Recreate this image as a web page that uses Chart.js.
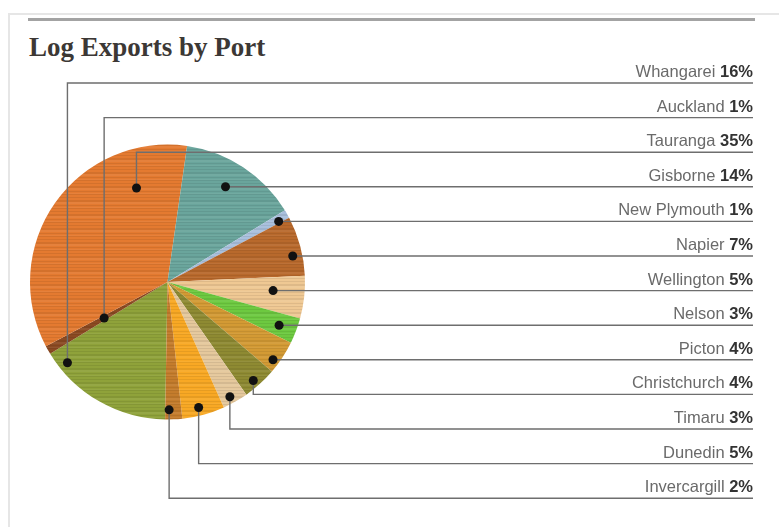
<!DOCTYPE html>
<html>
<head>
<meta charset="utf-8">
<title>Log Exports by Port</title>
<script src="https://cdn.jsdelivr.net/npm/chart.js@4.4.1/dist/chart.umd.min.js"></script>
<style>
  html, body { margin: 0; padding: 0; background: #ffffff; }
  #wrap { position: relative; width: 779px; height: 527px; overflow: hidden; }
  /* faint outer frame of the page panel */
  #frame {
    position: absolute; left: 8px; top: 13px; width: 790px; height: 540px;
    border-left: 2px solid #e6e6e6; border-top: 2px solid #e6e6e6;
  }
  /* darker rule above the title */
  #rule { position: absolute; left: 28px; top: 18px; width: 727px; height: 3px; background: #a3a3a3; }
  h1 {
    position: absolute; left: 29px; top: 34px; margin: 0;
    font: bold 27px/1 "Liberation Serif", "DejaVu Serif", serif;
    color: #3c3835; letter-spacing: 0;
  }
  canvas { position: absolute; left: 0; top: 0; }
</style>
</head>
<body>
<div id="wrap">
  <div id="frame"></div>
  <div id="rule"></div>
  <h1>Log Exports by Port</h1>
  <canvas id="portChart" width="779" height="527"></canvas>
</div>

<script>
/* ── DATA ───────────────────────────────────────────────────── */
/* Ports in legend order; slices run clockwise in the same order */
const ports = [
  'Whangarei', 'Auckland', 'Tauranga', 'Gisborne', 'New Plymouth', 'Napier',
  'Wellington', 'Nelson', 'Picton', 'Christchurch', 'Timaru', 'Dunedin', 'Invercargill',
];

/* Share of log exports, percent */
const shares = [16, 1, 35, 14, 1, 7, 5, 3, 4, 4, 3, 5, 2];

/* Slice colours, same order as ports */
const sliceColors = [
  '#8fa23a', '#8b4a22', '#e47a30', '#6aa59c', '#a9c0dd', '#b8692c', '#efc893',
  '#6dc940', '#d39a34', '#8e8a32', '#e5c89c', '#f8a824', '#c47c2c',
];

/* ── LEADER LAYOUT ──────────────────────────────────────────── */
/* Where each callout dot sits inside its slice:
   [fraction along the slice's angle, fraction of the radius] */
const dotSpots = [
  [0.87, 0.935], [0.50, 0.53], [0.79, 0.72], [0.46, 0.81], [0.50, 0.93],
  [0.64, 0.93], [0.38, 0.77], [0.53, 0.87], [0.69, 0.95], [0.58, 0.95],
  [0.60, 0.95], [0.57, 0.94], [0.76, 0.93],
];
const ROW_TOP   = 83;     // y of the first label rule
const ROW_GAP   = 34.6;   // spacing between label rules
const ROW_RIGHT = 753;    // right end of the rules / labels

/* ── WOOD-GRAIN TEXTURE ─────────────────────────────────────── */
/* Thin horizontal streaks laid over each slice colour */
function grain(base) {
  const c = document.createElement('canvas');
  c.width = 6; c.height = 14;
  const g = c.getContext('2d');
  g.fillStyle = base;
  g.fillRect(0, 0, 6, 14);
  g.fillStyle = 'rgba(0,0,0,0.07)';
  [[1, 1], [4, 2], [9, 1], [12, 1]].forEach(([y, h]) => g.fillRect(0, y, 6, h));
  g.fillStyle = 'rgba(255,255,255,0.06)';
  [[6, 2], [11, 1]].forEach(([y, h]) => g.fillRect(0, y, 6, h));
  return g.createPattern(c, 'repeat');
}

/* ── CALLOUT PLUGIN ─────────────────────────────────────────── */
/* Draws dots, elbow leader lines and right-aligned labels */
const callouts = {
  id: 'callouts',
  afterDatasetsDraw(chart) {
    const ctx  = chart.ctx;
    const arcs = chart.getDatasetMeta(0).data;

    ctx.save();
    arcs.forEach((arc, i) => {
      const p = arc.getProps(['x', 'y', 'startAngle', 'endAngle', 'outerRadius'], true);
      const [af, rf] = dotSpots[i];
      const a = p.startAngle + af * (p.endAngle - p.startAngle);
      const rowY = ROW_TOP + i * ROW_GAP;
      let dx = p.x + Math.cos(a) * p.outerRadius * rf;
      let dy = p.y + Math.sin(a) * p.outerRadius * rf;
      if (Math.abs(dy - rowY) < 6) dy = rowY;

      /* leader: vertical to the row, then across to the label */
      ctx.strokeStyle = '#6e6e6e';
      ctx.lineWidth = 1.4;
      ctx.beginPath();
      ctx.moveTo(dx, dy);
      ctx.lineTo(dx, rowY);
      ctx.lineTo(ROW_RIGHT, rowY);
      ctx.stroke();

      ctx.fillStyle = '#111111';
      ctx.beginPath();
      ctx.arc(dx, dy, 4.5, 0, Math.PI * 2);
      ctx.fill();

      /* label: gray name + bold percentage */
      const baseY = rowY - 6;
      ctx.textAlign = 'right';
      ctx.textBaseline = 'alphabetic';
      ctx.font = 'bold 16.5px "Liberation Sans", Arial, sans-serif';
      ctx.fillStyle = '#333333';
      const pct = shares[i] + '%';
      ctx.fillText(pct, ROW_RIGHT, baseY);
      const w = ctx.measureText(pct).width;
      ctx.font = '16.5px "Liberation Sans", Arial, sans-serif';
      ctx.fillStyle = '#6a6a6a';
      ctx.fillText(ports[i] + ' ', ROW_RIGHT - w, baseY);
    });
    ctx.restore();
  },
};

/* ── PIE CHART ──────────────────────────────────────────────── */
new Chart(document.getElementById('portChart'), {
  type: 'pie',
  data: {
    labels: ports,
    datasets: [{
      data: shares,
      backgroundColor: sliceColors.map(grain),
      borderWidth: 0,
    }],
  },
  options: {
    responsive: false,
    animation: false,
    rotation: 181,
    layout: { padding: { left: 30, right: 474, top: 144, bottom: 107 } },
    plugins: {
      legend: { display: false },
      tooltip: { enabled: false },
    },
  },
  plugins: [callouts],
});
</script>
</body>
</html>
